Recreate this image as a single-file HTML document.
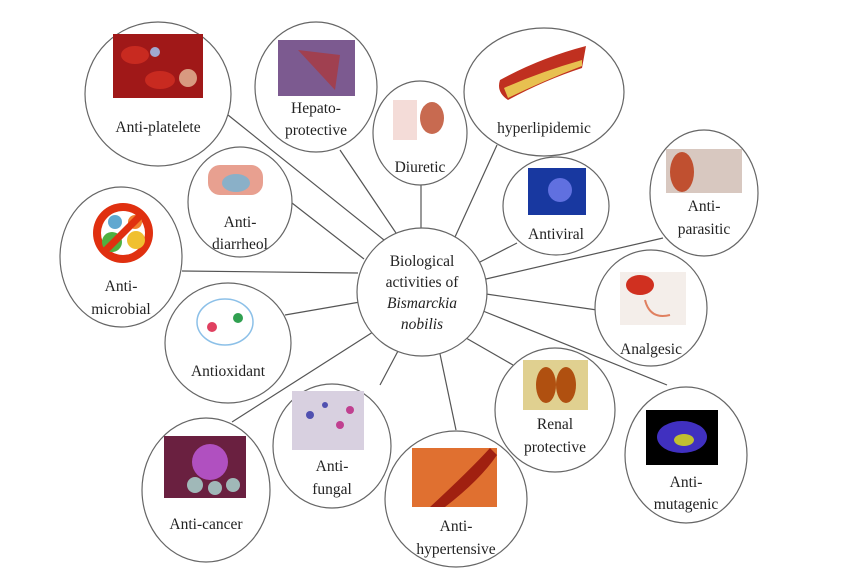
<!DOCTYPE html>
<html><head><meta charset="utf-8"><style>
html,body{margin:0;padding:0;background:#fff;}
svg{display:block;}
text{font-family:"Liberation Serif",serif;font-size:15.5px;fill:#222;text-anchor:middle;}
</style></head><body>
<svg width="854" height="571" viewBox="0 0 854 571" xmlns="http://www.w3.org/2000/svg">
<g stroke="#555" stroke-width="1.2" fill="none">
<line x1="228" y1="115" x2="384" y2="240"/>
<line x1="340" y1="150" x2="396" y2="233"/>
<line x1="421" y1="185" x2="421" y2="228"/>
<line x1="497" y1="145" x2="455" y2="237"/>
<line x1="517" y1="243" x2="478" y2="263"/>
<line x1="663" y1="238" x2="486" y2="279"/>
<line x1="597" y1="310" x2="486" y2="294"/>
<line x1="667" y1="385" x2="483" y2="311"/>
<line x1="513" y1="365" x2="466" y2="338"/>
<line x1="456" y1="430" x2="440" y2="354"/>
<line x1="380" y1="385" x2="398" y2="351"/>
<line x1="232" y1="422" x2="373" y2="332"/>
<line x1="285" y1="315" x2="360" y2="302"/>
<line x1="182" y1="271" x2="358" y2="273"/>
<line x1="292" y1="203" x2="364" y2="259"/>
</g>
<g stroke="#666" stroke-width="1.2" fill="#fff">
<ellipse cx="422" cy="292" rx="65" ry="64"/>
<ellipse cx="158" cy="94" rx="73" ry="72"/>
<ellipse cx="316" cy="87" rx="61" ry="65"/>
<ellipse cx="420" cy="133" rx="47" ry="52"/>
<ellipse cx="544" cy="92" rx="80" ry="64"/>
<ellipse cx="240" cy="202" rx="52" ry="55"/>
<ellipse cx="556" cy="206" rx="53" ry="49"/>
<ellipse cx="704" cy="193" rx="54" ry="63"/>
<ellipse cx="121" cy="257" rx="61" ry="70"/>
<ellipse cx="228" cy="343" rx="63" ry="60"/>
<ellipse cx="651" cy="308" rx="56" ry="58"/>
<ellipse cx="555" cy="410" rx="60" ry="62"/>
<ellipse cx="686" cy="455" rx="61" ry="68"/>
<ellipse cx="206" cy="490" rx="64" ry="72"/>
<ellipse cx="332" cy="446" rx="59" ry="62"/>
<ellipse cx="456" cy="499" rx="71" ry="68"/>
</g>
<!-- images -->
<rect x="113" y="34" width="90" height="64" fill="#a01818"/>
<ellipse cx="135" cy="55" rx="14" ry="9" fill="#c82a20"/><ellipse cx="160" cy="80" rx="15" ry="9" fill="#c82a20"/>
<circle cx="188" cy="78" r="9" fill="#d89a80"/><circle cx="155" cy="52" r="5" fill="#a0a8d0"/>
<rect x="278" y="40" width="77" height="56" fill="#7c5a90"/>
<path d="M298 50 L340 55 L335 90 Z" fill="#a04050"/>
<rect x="393" y="100" width="24" height="40" fill="#f4dcd8"/>
<ellipse cx="432" cy="118" rx="12" ry="16" fill="#c86a50"/>
<path d="M500 80 Q540 58 586 46 L582 68 Q545 80 508 100 Q496 92 500 80 Z" fill="#c03020"/>
<path d="M504 88 Q540 72 582 60 L582 66 Q545 80 508 98 Z" fill="#e8c050"/>
<rect x="208" y="165" width="55" height="30" rx="12" fill="#e8a090"/>
<ellipse cx="236" cy="183" rx="14" ry="9" fill="#8ab0c8"/>
<rect x="528" y="168" width="58" height="47" fill="#1838a0"/>
<circle cx="560" cy="190" r="12" fill="#6070e0"/>
<rect x="666" y="149" width="76" height="44" fill="#d8c8c0"/>
<ellipse cx="682" cy="172" rx="12" ry="20" fill="#c05030"/>
<circle cx="123" cy="233" r="30" fill="#e03010"/><circle cx="123" cy="233" r="22" fill="#fff"/>
<circle cx="112" cy="242" r="10" fill="#50b040"/><circle cx="136" cy="240" r="9" fill="#f0c030"/>
<circle cx="115" cy="222" r="7" fill="#60a8d0"/><circle cx="135" cy="222" r="7" fill="#f08030"/>
<line x1="103" y1="253" x2="143" y2="213" stroke="#e03010" stroke-width="7"/>
<ellipse cx="225" cy="322" rx="28" ry="23" fill="none" stroke="#8cc0e8" stroke-width="1.5"/>
<circle cx="212" cy="327" r="5" fill="#e04060"/><circle cx="238" cy="318" r="5" fill="#30a050"/>
<rect x="620" y="272" width="66" height="53" fill="#f4eeea"/>
<ellipse cx="640" cy="285" rx="14" ry="10" fill="#d03020"/>
<path d="M645 300 Q650 320 670 315" stroke="#e08060" stroke-width="2" fill="none"/>
<rect x="523" y="360" width="65" height="50" fill="#e0d090"/>
<ellipse cx="546" cy="385" rx="10" ry="18" fill="#b05010"/><ellipse cx="566" cy="385" rx="10" ry="18" fill="#b05010"/>
<rect x="646" y="410" width="72" height="55" fill="#000"/>
<ellipse cx="682" cy="437" rx="25" ry="16" fill="#4030c0"/><ellipse cx="684" cy="440" rx="10" ry="6" fill="#c0c030"/>
<rect x="164" y="436" width="82" height="62" fill="#6a2040"/>
<circle cx="210" cy="462" r="18" fill="#b050c0"/><circle cx="195" cy="485" r="8" fill="#a0b8b8"/>
<circle cx="215" cy="488" r="7" fill="#a0b8b8"/><circle cx="233" cy="485" r="7" fill="#a0b8b8"/>
<rect x="292" y="391" width="72" height="59" fill="#d8d0e0"/>
<circle cx="310" cy="415" r="4" fill="#5050b0"/><circle cx="340" cy="425" r="4" fill="#c04090"/>
<circle cx="325" cy="405" r="3" fill="#5050b0"/><circle cx="350" cy="410" r="4" fill="#c04090"/>
<rect x="412" y="448" width="85" height="59" fill="#e07030"/>
<path d="M430 507 Q470 470 490 448 L497 455 Q480 480 445 507 Z" fill="#a02010"/>
<!-- labels -->
<text x="422" y="266">Biological</text>
<text x="422" y="287">activities of</text>
<text x="422" y="308" font-style="italic">Bismarckia</text>
<text x="422" y="329" font-style="italic">nobilis</text>
<text x="158" y="132">Anti-platelete</text>
<text x="316" y="113">Hepato-</text>
<text x="316" y="135">protective</text>
<text x="420" y="172">Diuretic</text>
<text x="544" y="133">hyperlipidemic</text>
<text x="240" y="227">Anti-</text>
<text x="240" y="249">diarrheol</text>
<text x="556" y="239">Antiviral</text>
<text x="704" y="211">Anti-</text>
<text x="704" y="234">parasitic</text>
<text x="121" y="291">Anti-</text>
<text x="121" y="314">microbial</text>
<text x="228" y="376">Antioxidant</text>
<text x="651" y="354">Analgesic</text>
<text x="555" y="429">Renal</text>
<text x="555" y="452">protective</text>
<text x="686" y="487">Anti-</text>
<text x="686" y="509">mutagenic</text>
<text x="206" y="529">Anti-cancer</text>
<text x="332" y="471">Anti-</text>
<text x="332" y="494">fungal</text>
<text x="456" y="531">Anti-</text>
<text x="456" y="554">hypertensive</text>
</svg>
</body></html>
